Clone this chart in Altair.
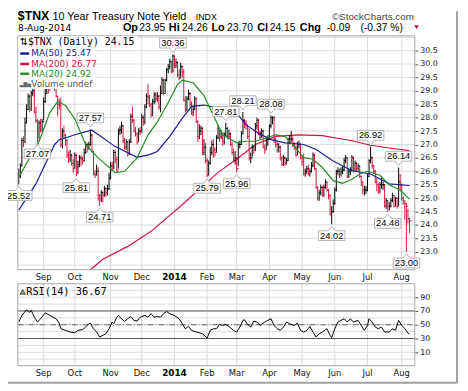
import altair as alt
import pandas as pd

# ---------------------------------------------------------------- data
HOLIDAYS = ["2013-09-02", "2013-11-28", "2013-12-25", "2014-01-01", "2014-01-20",
            "2014-02-17", "2014-04-18", "2014-05-26", "2014-07-04"]
FIRST_DAY, LAST_DAY = "2013-08-09", "2014-08-08"

high_2013_08 = [26.10, 26.30, 27.25, 27.30, 28.00, 28.50, 28.90, 28.85, 29.00, 29.40, 29.05, 28.40, 27.95, 27.90, 27.95, 27.95]
low_2013_08 = [25.52, 25.75, 26.20, 26.90, 27.05, 27.80, 28.30, 28.20, 28.25, 28.80, 28.15, 27.80, 27.07, 27.20, 27.45, 27.50]
close_2013_08 = [25.80, 26.20, 27.15, 27.10, 27.80, 28.30, 28.80, 28.35, 28.90, 29.00, 28.20, 27.90, 27.15, 27.80, 27.50, 27.85]

high_2013_09 = [28.75, 29.10, 29.90, 30.05, 29.40, 29.70, 29.65, 29.40, 29.20, 28.80, 28.70, 28.75, 27.60, 27.70, 27.40, 27.20, 26.75, 26.80, 26.65, 26.45]
low_2013_09 = [27.90, 28.55, 28.90, 28.90, 29.00, 29.10, 29.10, 29.00, 28.75, 28.05, 28.30, 26.90, 26.85, 27.20, 26.95, 26.50, 26.30, 26.35, 26.20, 25.95]
close_2013_09 = [28.60, 28.90, 29.80, 29.35, 29.10, 29.60, 29.20, 29.10, 28.80, 28.50, 28.45, 27.00, 27.50, 27.35, 27.15, 26.60, 26.45, 26.60, 26.30, 26.10]

high_2013_10 = [26.70, 26.65, 26.40, 26.60, 26.60, 26.55, 26.85, 27.10, 27.05, 27.10, 27.57, 27.40, 26.75, 26.05, 26.25, 26.15, 25.15, 25.30, 25.25, 25.45, 25.40, 25.50, 25.95]
low_2013_10 = [26.10, 25.81, 25.90, 26.15, 26.20, 26.25, 26.35, 26.65, 26.70, 26.80, 26.95, 26.70, 25.85, 25.75, 25.85, 24.90, 24.71, 24.85, 24.85, 25.05, 25.05, 25.10, 25.30]
close_2013_10 = [26.60, 26.15, 26.25, 26.50, 26.45, 26.40, 26.70, 27.00, 26.90, 27.00, 27.35, 26.75, 25.90, 25.85, 26.00, 25.10, 25.00, 25.20, 25.10, 25.35, 25.20, 25.35, 25.75]

high_2013_11 = [26.35, 26.35, 26.80, 26.80, 26.55, 27.60, 27.70, 27.85, 27.70, 27.25, 27.20, 27.10, 27.20, 28.15, 28.40, 27.95, 27.65, 27.45, 27.60, 27.65]
low_2013_11 = [25.70, 26.00, 26.10, 26.30, 25.95, 26.10, 27.35, 27.40, 27.05, 26.80, 26.80, 26.55, 26.60, 27.05, 27.80, 27.45, 27.30, 27.00, 27.10, 27.35]
close_2013_11 = [26.20, 26.10, 26.70, 26.45, 26.05, 27.50, 27.55, 27.70, 27.15, 26.90, 27.10, 26.65, 27.10, 28.05, 27.90, 27.50, 27.40, 27.10, 27.50, 27.45]

high_2013_12 = [28.15, 28.10, 28.50, 28.90, 29.25, 28.85, 28.55, 28.70, 28.95, 28.95, 28.95, 28.85, 29.20, 29.50, 29.45, 29.45, 29.85, 30.00, 30.20, 30.10, 30.36]
low_2013_12 = [27.45, 27.70, 27.75, 28.35, 28.50, 28.40, 28.00, 28.05, 28.50, 28.55, 28.60, 28.30, 28.20, 28.90, 28.85, 28.90, 29.35, 29.65, 29.80, 29.65, 29.70]
close_2013_12 = [28.00, 27.85, 28.40, 28.80, 28.75, 28.50, 28.10, 28.60, 28.85, 28.70, 28.80, 28.40, 28.90, 29.40, 28.90, 29.40, 29.80, 29.90, 30.10, 29.70, 30.30]

high_2014_01 = [30.30, 30.20, 30.10, 29.80, 30.05, 29.95, 29.80, 28.80, 28.80, 29.05, 28.95, 28.60, 28.45, 28.80, 28.75, 27.90, 27.75, 27.70, 27.65, 27.20, 27.05]
low_2014_01 = [29.85, 29.85, 29.50, 29.40, 29.45, 29.50, 28.60, 28.20, 28.25, 28.65, 28.40, 28.10, 28.05, 28.30, 27.80, 27.10, 27.20, 27.35, 26.60, 26.60, 26.30]
close_2014_01 = [29.95, 30.05, 29.60, 29.50, 29.90, 29.70, 28.65, 28.30, 28.70, 28.90, 28.50, 28.20, 28.30, 28.70, 27.85, 27.30, 27.50, 27.60, 26.70, 26.90, 26.40]

high_2014_02 = [26.50, 26.40, 26.90, 27.15, 27.20, 26.90, 27.35, 27.70, 27.65, 27.55, 27.45, 27.45, 27.81, 27.65, 27.55, 27.45, 27.10, 26.85, 26.75]
low_2014_02 = [25.79, 25.85, 26.25, 26.60, 26.50, 26.55, 26.70, 27.20, 27.10, 27.20, 26.95, 27.00, 27.30, 27.20, 27.20, 26.95, 26.60, 26.35, 26.25]
close_2014_02 = [25.85, 26.30, 26.70, 27.00, 26.80, 26.70, 27.25, 27.60, 27.30, 27.40, 27.10, 27.35, 27.60, 27.30, 27.40, 27.00, 26.70, 26.50, 26.50]

high_2014_03 = [26.50, 27.10, 27.15, 27.50, 28.21, 27.95, 27.90, 27.75, 27.60, 26.70, 27.00, 26.95, 27.80, 28.00, 27.95, 27.50, 27.60, 27.55, 27.00, 27.30, 27.35]
low_2014_03 = [25.96, 26.20, 26.85, 27.00, 27.40, 27.60, 27.55, 27.20, 26.40, 26.30, 26.55, 26.65, 26.75, 27.55, 27.35, 27.20, 27.25, 26.85, 26.65, 26.80, 26.95]
close_2014_03 = [26.10, 27.00, 27.00, 27.40, 27.90, 27.80, 27.70, 27.30, 26.50, 26.50, 26.90, 26.80, 27.70, 27.90, 27.40, 27.40, 27.50, 26.90, 26.80, 27.20, 27.20]

high_2014_04 = [27.75, 28.08, 28.05, 28.05, 27.25, 27.10, 27.05, 26.95, 26.55, 26.60, 26.55, 26.50, 27.25, 27.35, 27.50, 27.30, 27.10, 26.95, 27.10, 27.15, 27.05]
low_2014_04 = [27.20, 27.60, 27.75, 27.05, 26.90, 26.70, 26.70, 26.40, 26.20, 26.20, 26.20, 26.25, 26.40, 27.05, 27.10, 26.90, 26.80, 26.55, 26.60, 26.85, 26.45]
close_2014_04 = [27.70, 28.00, 28.00, 27.20, 27.00, 26.80, 26.90, 26.50, 26.25, 26.50, 26.30, 26.40, 27.20, 27.20, 27.20, 27.00, 26.90, 26.60, 27.00, 27.00, 26.50]

high_2014_05 = [26.55, 26.65, 26.10, 26.20, 26.25, 26.10, 26.35, 26.70, 26.65, 26.10, 25.45, 25.30, 25.50, 25.45, 25.50, 25.70, 25.60, 25.35, 25.15, 24.70, 24.95]
low_2014_05 = [26.20, 25.85, 25.80, 25.90, 25.85, 25.80, 25.95, 26.15, 26.05, 25.35, 24.90, 24.90, 25.10, 25.05, 25.05, 25.35, 25.25, 24.95, 24.35, 24.02, 24.45]
close_2014_05 = [26.35, 25.90, 26.00, 26.10, 25.90, 26.00, 26.20, 26.60, 26.10, 25.40, 25.00, 25.20, 25.40, 25.10, 25.40, 25.60, 25.30, 25.10, 24.40, 24.50, 24.80]

high_2014_06 = [25.40, 26.05, 26.15, 26.10, 26.15, 26.20, 26.50, 26.60, 26.50, 26.10, 26.15, 26.60, 26.55, 26.40, 26.35, 26.30, 26.20, 25.85, 25.60, 25.45, 25.45]
low_2014_06 = [24.75, 25.25, 25.85, 25.75, 25.80, 25.90, 26.00, 26.30, 25.75, 25.75, 25.85, 26.00, 25.95, 26.00, 26.00, 26.00, 25.75, 25.45, 25.15, 25.10, 25.15]
close_2014_06 = [25.30, 26.00, 26.00, 25.90, 26.00, 26.05, 26.40, 26.50, 25.80, 26.00, 26.05, 26.50, 26.10, 26.30, 26.10, 26.20, 25.80, 25.60, 25.30, 25.30, 25.30]

high_2014_07 = [25.90, 26.45, 26.92, 26.55, 26.25, 26.05, 25.75, 25.55, 25.60, 25.75, 25.60, 25.50, 25.00, 24.90, 24.85, 25.00, 25.20, 25.10, 25.05, 25.00, 26.14, 25.90]
low_2014_07 = [25.25, 25.80, 26.30, 26.10, 25.90, 25.55, 25.25, 25.15, 25.20, 25.35, 25.30, 24.65, 24.60, 24.48, 24.55, 24.65, 24.85, 24.65, 24.70, 24.60, 24.70, 25.30]
close_2014_07 = [25.80, 26.40, 26.50, 26.20, 26.00, 25.60, 25.50, 25.20, 25.50, 25.50, 25.50, 24.70, 24.90, 24.70, 24.70, 24.90, 25.10, 24.70, 25.00, 24.70, 25.60, 25.50]

high_2014_08 = [25.55, 25.05, 24.90, 24.80, 24.60, 24.26]
low_2014_08 = [24.90, 24.75, 24.20, 23.00, 24.05, 23.70]
close_2014_08 = [25.00, 24.90, 24.80, 24.70, 24.24, 24.15]

# moving averages (trading-day number, value)
ma50_day = [0, 11, 23, 26, 37, 47, 62, 76, 84, 89, 97, 105, 111, 119, 127, 140, 146, 154, 162, 171, 183, 191, 202, 214, 226, 238, 251]
ma50_val = [24.55, 25.53, 27.0, 27.17, 27.38, 27.53, 26.92, 26.52, 26.62, 26.74, 27.3, 27.97, 28.42, 28.47, 28.37, 28.17, 27.73, 27.42, 27.18, 27.06, 27.0, 26.81, 26.38, 26.02, 25.9, 25.53, 25.47]
ma200_day = [46, 54, 70, 85, 105, 128, 140, 152, 165, 180, 195, 214, 226, 240, 251]
ma200_val = [22.33, 22.72, 23.2, 23.76, 24.75, 25.96, 26.45, 27.0, 27.3, 27.36, 27.33, 27.14, 26.97, 26.85, 26.77]
ma20_day = [0, 7, 13, 20, 25, 30, 36, 43, 51, 62, 68, 76, 83, 89, 95, 102, 105, 112, 119, 125, 131, 140, 146, 152, 159, 165, 171, 176, 183, 189, 195, 202, 208, 214, 219, 224, 232, 238, 245, 251]
ma20_val = [25.78, 26.5, 27.1, 28.2, 28.6, 28.45, 27.96, 26.99, 26.5, 25.95, 26.0, 26.5, 27.35, 27.84, 28.45, 29.24, 29.4, 29.3, 28.82, 28.08, 27.36, 27.06, 27.12, 27.12, 27.24, 27.36, 27.3, 27.0, 26.51, 26.45, 26.14, 25.65, 25.55, 25.7, 25.9, 26.0, 25.85, 25.5, 25.29, 24.96]

rsi_day = [0, 2, 5, 7, 8, 9, 10, 12, 14, 17, 20, 22, 24, 26, 27, 30, 33, 36, 38, 41, 43, 45, 46, 48, 50, 52, 54, 56, 58, 60, 61, 63, 64, 66, 68, 70, 72, 74, 76, 78, 81, 83, 85, 87, 89, 91, 93, 95, 97, 100, 103, 105, 107, 109, 111, 114, 118, 121, 123, 125, 127, 129, 131, 133, 135, 138, 140, 142, 144, 145, 147, 149, 151, 153, 155, 158, 160, 162, 164, 166, 168, 170, 172, 174, 177, 179, 181, 183, 185, 187, 189, 191, 193, 195, 198, 200, 201, 203, 205, 207, 209, 211, 213, 215, 218, 220, 222, 224, 225, 227, 229, 231, 233, 235, 238, 240, 242, 244, 246, 248, 250, 251]
rsi_val = [53.9, 63.5, 71.7, 68.0, 70.7, 66.0, 61.0, 54.0, 58.7, 67.3, 63.5, 61.0, 58.7, 52.4, 44.2, 41.8, 39.4, 38.4, 41.8, 42.8, 46.6, 51.4, 52.4, 44.2, 39.4, 32.2, 34.6, 37.0, 44.2, 53.9, 51.4, 61.0, 63.5, 58.7, 54.8, 58.7, 62.0, 56.3, 55.3, 61.0, 63.5, 61.0, 66.0, 61.0, 62.0, 61.0, 66.0, 69.3, 66.0, 63.5, 58.7, 51.4, 44.2, 47.6, 41.8, 39.4, 37.0, 30.7, 41.8, 44.2, 44.2, 50.5, 49.0, 50.5, 47.6, 41.8, 39.4, 46.6, 56.3, 57.2, 50.5, 46.6, 55.3, 53.9, 49.0, 53.9, 56.3, 58.7, 49.0, 44.2, 41.8, 46.6, 53.9, 51.4, 49.0, 52.4, 41.8, 39.4, 41.8, 47.6, 39.4, 32.2, 37.0, 39.4, 44.2, 34.6, 31.2, 44.2, 53.9, 56.3, 58.7, 53.9, 58.7, 53.9, 56.3, 49.0, 41.8, 49.0, 58.7, 53.9, 46.6, 44.2, 46.6, 39.4, 39.4, 44.2, 41.8, 56.3, 49.0, 44.2, 38.0, 36.67]

callout_day = [0, 12, 37, 46, 52, 99, 121, 133, 140, 144, 162, 201, 226, 237, 244, 249]
callout_kind = ["low", "low", "low", "high", "low", "high", "low", "high", "low", "high", "high", "low", "high", "low", "high", "low"]

price_ticks = [23.0, 23.5, 24.0, 24.5, 25.0, 25.5, 26.0, 26.5, 27.0, 27.5, 28.0, 28.5, 29.0, 29.5, 30.0, 30.5]
price_grid = [22.5] + price_ticks + [31.0]
rsi_ticks = [10, 30, 50, 70, 90]
rsi_grid = [0, 10, 20, 30, 40, 50, 60, 70, 80, 90, 100]
rsi_bands = [30, 70]

# ---------------------------------------------------------------- tables
highs = (high_2013_08 + high_2013_09 + high_2013_10 + high_2013_11 + high_2013_12 + high_2014_01 +
         high_2014_02 + high_2014_03 + high_2014_04 + high_2014_05 + high_2014_06 + high_2014_07 + high_2014_08)
lows = (low_2013_08 + low_2013_09 + low_2013_10 + low_2013_11 + low_2013_12 + low_2014_01 +
        low_2014_02 + low_2014_03 + low_2014_04 + low_2014_05 + low_2014_06 + low_2014_07 + low_2014_08)
closes = (close_2013_08 + close_2013_09 + close_2013_10 + close_2013_11 + close_2013_12 + close_2014_01 +
          close_2014_02 + close_2014_03 + close_2014_04 + close_2014_05 + close_2014_06 + close_2014_07 + close_2014_08)

days = pd.bdate_range(FIRST_DAY, LAST_DAY)
days = days[~days.isin(pd.to_datetime(HOLIDAYS))]
n = len(closes)
day_list = list(days[:n])
prev = [None] + closes[:-1]
bars = pd.DataFrame({
    "i": list(range(n)),
    "high": highs, "low": lows, "close": closes,
    "dir": ["down" if (p is not None and c < p) else "up" for c, p in zip(closes, prev)],
})

m_i, m_label, m_bold = [], [], []
seen = {(day_list[0].year, day_list[0].month)}
for k, d in enumerate(day_list):
    key = (d.year, d.month)
    if key not in seen:
        seen.add(key)
        m_i.append(k)
        m_label.append(str(d.year) if d.month == 1 else d.strftime("%b"))
        m_bold.append(d.month == 1)
months = pd.DataFrame({"i": m_i, "label": m_label, "bold": m_bold})

ma50 = pd.DataFrame({"i": ma50_day, "v": ma50_val})
ma200 = pd.DataFrame({"i": ma200_day, "v": ma200_val})
ma20 = pd.DataFrame({"i": ma20_day, "v": ma20_val})
rsi = pd.DataFrame({"i": rsi_day, "v": rsi_val})
co = pd.DataFrame({"i": callout_day, "kind": callout_kind})
co["v"] = [highs[d] if k == "high" else lows[d] for d, k in zip(callout_day, callout_kind)]
co["label"] = [f"{v:.2f}" for v in co["v"]]

one = pd.DataFrame({"k": [0]})

# ---------------------------------------------------------------- layout
W = 404
PH = 238            # price panel height
R0, R1 = 252.3, 335.7  # RSI panel top / bottom
GRID = "#dadada"
BORDER = "#a3a3a3"
RED = "#d3133d"
BLUE = "#1c1c94"
GREEN = "#248c24"

xsc = alt.Scale(domain=[-0.6, 254.4], nice=False, zero=False)
X = alt.X("i:Q", scale=xsc, axis=None)

py = alt.Scale(domain=[22.33, 31.05], range=[PH, 0], nice=False, zero=False)
paxis = alt.Axis(orient="right", values=price_ticks, format=".1f", tickSize=3, tickColor="#555",
                 domain=False, grid=False, labelFont="DejaVu Sans", labelFontSize=8,
                 labelColor="#111", labelPadding=2, title=None)


def PY(f):
    return alt.Y(f, scale=py, axis=paxis)


ry = alt.Scale(domain=[-9.5, 109.5], range=[R1, R0], nice=False, zero=False)
raxis = alt.Axis(orient="right", values=rsi_ticks, tickSize=3, tickColor="#555",
                 domain=False, grid=False, labelFont="DejaVu Sans", labelFontSize=8,
                 labelColor="#111", labelPadding=2, title=None)


def RY(f):
    return alt.Y(f, scale=ry, axis=raxis)


def txt(s, x, y, size, font="DejaVu Sans", weight="normal", color="#000000",
        align="left", baseline="alphabetic"):
    return alt.Chart(one).mark_text(align=align, baseline=baseline, font=font, fontSize=size,
                                    fontWeight=weight, color=color).encode(
        x=alt.value(x), y=alt.value(y), text=alt.value(s))


# ---------------- price panel
p_hgrid = alt.Chart(pd.DataFrame({"v": price_grid})).mark_rule(color=GRID, strokeWidth=1).encode(
    y=PY("v:Q"), x=alt.value(0), x2=alt.value(W))
p_vgrid = alt.Chart(months).mark_rule(color=GRID, strokeWidth=1).encode(
    x=X, y=alt.value(0), y2=alt.value(PH))
p_border = alt.Chart(one).mark_rect(fillOpacity=0, stroke=BORDER, strokeWidth=1).encode(
    x=alt.value(0), x2=alt.value(W), y=alt.value(0), y2=alt.value(PH))
l_ma200 = alt.Chart(ma200).mark_line(color=RED, strokeWidth=1.2).encode(x=X, y=PY("v:Q"))
p_bars = alt.Chart(bars).mark_rule(strokeWidth=1).encode(
    x=X, y=PY("low:Q"), y2="high:Q",
    color=alt.Color("dir:N", scale=alt.Scale(domain=["up", "down"], range=["#000000", RED]), legend=None))
p_ticks = alt.Chart(bars).mark_tick(orient="horizontal", size=2, thickness=1, xOffset=1, opacity=1).encode(
    x=X, y=PY("close:Q"),
    color=alt.Color("dir:N", scale=alt.Scale(domain=["up", "down"], range=["#000000", RED]), legend=None))
l_ma50 = alt.Chart(ma50).mark_line(color=BLUE, strokeWidth=1.2).encode(x=X, y=PY("v:Q"))
l_ma20 = alt.Chart(ma20).mark_line(color=GREEN, strokeWidth=1.2).encode(x=X, y=PY("v:Q"))

HI_PATH = "M0,-2L3.5,-6.5L13.5,-6.5L13.5,-16.5L-13.5,-16.5L-13.5,-6.5L-3.5,-6.5Z"
LO_PATH = "M0,2L3.5,6.5L13.5,6.5L13.5,16.5L-13.5,16.5L-13.5,6.5L-3.5,6.5Z"
co_hi = co[co["kind"] == "high"]
co_lo = co[co["kind"] == "low"]
c_hi_box = alt.Chart(co_hi).mark_point(shape=HI_PATH, size=4, filled=True, color="white",
                                       stroke="#b3b3b3", strokeWidth=1, opacity=1).encode(x=X, y=PY("v:Q"))
c_lo_box = alt.Chart(co_lo).mark_point(shape=LO_PATH, size=4, filled=True, color="white",
                                       stroke="#b3b3b3", strokeWidth=1, opacity=1).encode(x=X, y=PY("v:Q"))
c_hi_txt = alt.Chart(co_hi).mark_text(font="Liberation Sans", fontSize=9.5, baseline="middle", dy=-11.3,
                                      color="#000").encode(x=X, y=PY("v:Q"), text="label:N")
c_lo_txt = alt.Chart(co_lo).mark_text(font="Liberation Sans", fontSize=9.5, baseline="middle", dy=11.7,
                                      color="#000").encode(x=X, y=PY("v:Q"), text="label:N")

price = alt.layer(p_hgrid, p_vgrid, l_ma200, p_bars, p_ticks, l_ma50, l_ma20, p_border,
                  c_hi_box, c_lo_box, c_hi_txt, c_lo_txt)

# ---------------- RSI panel
r_hgrid = alt.Chart(pd.DataFrame({"v": rsi_grid})).mark_rule(color=GRID, strokeWidth=1).encode(
    y=RY("v:Q"), x=alt.value(0), x2=alt.value(W))
r_vgrid = alt.Chart(months).mark_rule(color=GRID, strokeWidth=1).encode(
    x=X, y=alt.value(R0), y2=alt.value(R1))
r_bands = alt.Chart(pd.DataFrame({"v": rsi_bands})).mark_rule(color="#555555", strokeWidth=1).encode(
    y=RY("v:Q"), x=alt.value(0), x2=alt.value(W))
r_mid = alt.Chart(pd.DataFrame({"v": [50]})).mark_rule(color="#666666", strokeWidth=1,
                                                       strokeDash=[6, 2, 1, 2]).encode(
    y=RY("v:Q"), x=alt.value(0), x2=alt.value(W))
r_line = alt.Chart(rsi).mark_line(color="#000000", strokeWidth=1).encode(x=X, y=RY("v:Q"))
r_border = alt.Chart(one).mark_rect(fillOpacity=0, stroke=BORDER, strokeWidth=1).encode(
    x=alt.value(0), x2=alt.value(W), y=alt.value(R0), y2=alt.value(R1))

rsi_panel = alt.layer(r_hgrid, r_vgrid, r_bands, r_mid, r_line, r_border)

# ---------------- month labels
m_norm = months[~months["bold"]]
m_boldd = months[months["bold"]]
labels = []
for yy in (245, 343.5):
    labels.append(alt.Chart(m_norm).mark_text(font="DejaVu Sans", fontSize=8.5, baseline="middle",
                                              color="#111").encode(x=X, y=alt.value(yy), text="label:N"))
    labels.append(alt.Chart(m_boldd).mark_text(font="DejaVu Sans", fontSize=9, fontWeight="bold",
                                               baseline="middle", color="#000").encode(
        x=X, y=alt.value(yy), text="label:N"))

# ---------------- legends inside the panels
leg = [
    alt.Chart(one).mark_rect(color="white").encode(x=alt.value(0.5), x2=alt.value(122), y=alt.value(0.5), y2=alt.value(12)),
    alt.Chart(one).mark_rect(color="white").encode(x=alt.value(0.5), x2=alt.value(79), y=alt.value(12), y2=alt.value(54)),
    txt("⇅", 2, 6, 10, baseline="middle"),
    txt("$TNX (Daily) 24.15", 10.3, 6, 10, font="DejaVu Sans Mono", baseline="middle"),
]
for yy, col, s in ((18, BLUE, "MA(50) 25.47"), (28.6, RED, "MA(200) 26.77"), (38.6, GREEN, "MA(20) 24.92")):
    leg.append(alt.Chart(one).mark_rule(color=col, strokeWidth=2.5).encode(
        x=alt.value(2.5), x2=alt.value(11.5), y=alt.value(yy)))
    leg.append(txt(s, 13.7, yy, 9, color=col, baseline="middle"))
leg.append(txt("▃▇▅", 2, 48.6, 5, color="#666666", baseline="middle"))
leg.append(txt("Volume undef", 13.7, 48.6, 9, color="#555555", baseline="middle"))
leg.append(alt.Chart(one).mark_point(shape="triangle-up", size=30, filled=True, color="#86a878",
                                     stroke="#333333", strokeWidth=0.8, opacity=1).encode(
    x=alt.value(5), y=alt.value(260.5)))
leg.append(txt("RSI(14) 36.67", 8.5, 260.5, 10.5, font="DejaVu Sans Mono", baseline="middle"))

# ---------------- header
LS = "Liberation Sans"
head = [
    txt("$TNX", 0, -16, 12.5, font=LS, weight="bold"),
    txt("10 Year Treasury Note Yield", 35.3, -16.5, 11, font=LS),
    txt("INDX", 181, -16.5, 9, font=LS),
    txt("©StockCharts.com", 403, -16.5, 10, font=LS, color="#444444", align="right"),
    txt("8-Aug-2014", 0.3, -5, 9.3),
    txt("Op", 107, -5, 11, font=LS, weight="bold"), txt("23.95", 123.7, -5, 10.5, font=LS),
    txt("Hi", 153.7, -5, 11, font=LS, weight="bold"), txt("24.26", 167, -5, 10.5, font=LS),
    txt("Lo", 197, -5, 11, font=LS, weight="bold"), txt("23.70", 213, -5, 10.5, font=LS),
    txt("Cl", 243.7, -5, 11, font=LS, weight="bold"), txt("24.15", 256.3, -5, 10.5, font=LS),
    txt("Chg", 287, -5, 11, font=LS, weight="bold"),
    txt("-0.09", 314.3, -5, 10.5, font=LS),
    txt("(-0.37 %)", 348.7, -5, 10.5, font=LS),
    alt.Chart(one).mark_point(shape="triangle-down", size=22, filled=True, color="#a3213a", opacity=1).encode(
        x=alt.value(405.8), y=alt.value(-8.8)),
]

# ---------------- card shadow
frame = [
    alt.Chart(one).mark_rule(color="#a0a0a0", strokeWidth=2).encode(x=alt.value(447), y=alt.value(-25), y2=alt.value(353)),
    alt.Chart(one).mark_rule(color="#a0a0a0", strokeWidth=2).encode(x=alt.value(-10), x2=alt.value(447), y=alt.value(353)),
]

chart = alt.layer(price, rsi_panel, *labels, *leg, *head, *frame).resolve_scale(
    y="independent"
).properties(
    width=W, height=336,
    padding={"left": 10, "top": 25, "right": 46, "bottom": 17},
    autosize=alt.AutoSizeParams(type="none"),
    background="white",
).configure_view(strokeWidth=0)

chart.save("out.html", embed_options={"renderer": "svg", "actions": False})
